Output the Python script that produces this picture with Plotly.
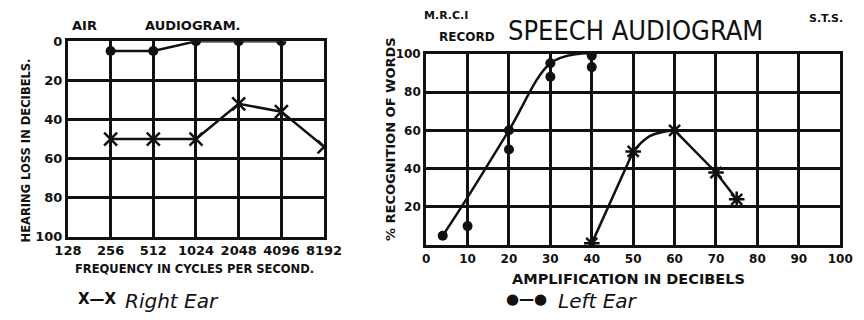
import plotly.graph_objects as go

# ---- Air audiogram data ----
freq_ticks = [128, 256, 512, 1024, 2048, 4096, 8192]
loss_ticks = [0, 20, 40, 60, 80, 100]
left_air_freq = [256, 512, 1024, 2048, 4096]
left_air_loss = [5, 5, 0, 0, 0]
right_air_freq = [256, 512, 1024, 2048, 4096, 8192]
right_air_loss = [50, 50, 50, 32, 36, 54]

# ---- Speech audiogram data ----
amp_ticks = [0, 10, 20, 30, 40, 50, 60, 70, 80, 90, 100]
pct_ticks = [20, 40, 60, 80, 100]
left_dots_amp = [4, 10, 20, 20, 30, 30, 40, 40]
left_dots_pct = [5, 10, 50, 60, 88, 95, 99, 93]
left_curve_amp = [4, 10, 20, 30, 37, 40]
left_curve_pct = [5, 25, 60, 95, 100, 100]
right_pts_amp = [40, 50, 60, 70, 75]
right_pts_pct = [1, 49, 60, 38, 24]
right_arc_amp = [50, 54, 60]
right_arc_pct = [49, 57, 60]

INK = "#111111"
FONT = "DejaVu Sans"

fig = go.Figure()

# Left chart
fig.add_trace(go.Scatter(x=left_air_freq, y=left_air_loss, mode="lines+markers",
                         line=dict(color=INK, width=2.5),
                         marker=dict(symbol="circle", size=10, color=INK),
                         xaxis="x", yaxis="y", showlegend=False))
fig.add_trace(go.Scatter(x=right_air_freq, y=right_air_loss, mode="lines+markers",
                         line=dict(color=INK, width=2.5),
                         marker=dict(symbol="x-thin", size=13, line=dict(color=INK, width=2.5)),
                         xaxis="x", yaxis="y", showlegend=False))

# Right chart
fig.add_trace(go.Scatter(x=left_curve_amp, y=left_curve_pct, mode="lines",
                         line=dict(color=INK, width=2.5, shape="spline", smoothing=1.0),
                         xaxis="x2", yaxis="y2", showlegend=False))
fig.add_trace(go.Scatter(x=left_dots_amp, y=left_dots_pct, mode="markers",
                         marker=dict(symbol="circle", size=10, color=INK),
                         xaxis="x2", yaxis="y2", showlegend=False))
fig.add_trace(go.Scatter(x=right_pts_amp[:2], y=right_pts_pct[:2], mode="lines",
                         line=dict(color=INK, width=2.5),
                         xaxis="x2", yaxis="y2", showlegend=False))
fig.add_trace(go.Scatter(x=right_arc_amp, y=right_arc_pct, mode="lines",
                         line=dict(color=INK, width=2.5, shape="spline"),
                         xaxis="x2", yaxis="y2", showlegend=False))
fig.add_trace(go.Scatter(x=right_pts_amp[2:], y=right_pts_pct[2:], mode="lines",
                         line=dict(color=INK, width=2.5),
                         xaxis="x2", yaxis="y2", showlegend=False))
fig.add_trace(go.Scatter(x=right_pts_amp, y=right_pts_pct, mode="markers",
                         marker=dict(symbol="asterisk", size=13, line=dict(color=INK, width=2.5)),
                         xaxis="x2", yaxis="y2", showlegend=False))

axis_common = dict(showgrid=True, gridcolor=INK, gridwidth=3, showline=True, linecolor=INK,
                   linewidth=3, mirror=True, zeroline=False, ticks="",
                   tickfont=dict(family=FONT, size=13, color=INK, weight="bold"))

fig.update_layout(
    width=864, height=320, margin=dict(l=0, r=0, t=0, b=0),
    paper_bgcolor="white", plot_bgcolor="white",
    xaxis=dict(axis_common, type="log", domain=[56/864, 322/864], anchor="y",
               range=[2.10721, 3.91339], tickvals=freq_ticks,
               ticktext=[str(v) for v in freq_ticks]),
    yaxis=dict(axis_common, domain=[1-241/320, 1-36/320], anchor="x",
               range=[100, 0], tickvals=loss_ticks,
               ticktext=[str(v) for v in loss_ticks]),
    xaxis2=dict(axis_common, domain=[428/864, 858/864], anchor="y2",
                range=[0, 100], tickvals=amp_ticks,
                ticktext=[str(v) for v in amp_ticks]),
    yaxis2=dict(axis_common, domain=[1-250/320, 1-49/320], anchor="x2",
                range=[0, 100], tickvals=pct_ticks,
                ticktext=[str(v) for v in pct_ticks]),
)
fig.layout.xaxis2.tickfont.size = 12
fig.layout.yaxis2.tickfont.size = 12


def ann(text, x, y, size, xanchor="center", angle=0, italic=False, family=FONT, weight="bold"):
    fig.add_annotation(text=text, x=x/864, y=1-y/320, xref="paper", yref="paper",
                       xanchor=xanchor, yanchor="middle", showarrow=False, textangle=angle,
                       font=dict(family=family, size=size, color=INK, weight=weight,
                                 style="italic" if italic else "normal"))


ann("AIR", 73, 19, 13)
ann("AUDIOGRAM.", 186, 19, 13)
ann("HEARING LOSS IN DECIBELS.", 12, 151, 11.5, angle=-90)
ann("FREQUENCY IN CYCLES PER SECOND.", 187, 275, 11.5)
ann("X—X", 87, 306, 15)
ann("Right Ear", 113, 308, 20, xanchor="left", italic=True, weight="normal")

ann("M.R.C.I", 449, 9, 11)
ann("RECORD", 470, 31, 12)
ann("S.T.S.", 843, 12, 11)
ann("SPEECH AUDIOGRAM", 645, 25, 27, family="DejaVu Sans Condensed", weight="normal")
ann("% RECOGNITION OF WORDS", 391, 139, 13, angle=-90)
ann("AMPLIFICATION IN DECIBELS", 638, 285, 14.5)
ann("●—●", 532, 306, 15)
ann("Left Ear", 563, 308, 20, xanchor="left", italic=True, weight="normal")

fig.write_html("out.html", post_script="document.body.style.margin='0';",
               config={"displayModeBar": False})
